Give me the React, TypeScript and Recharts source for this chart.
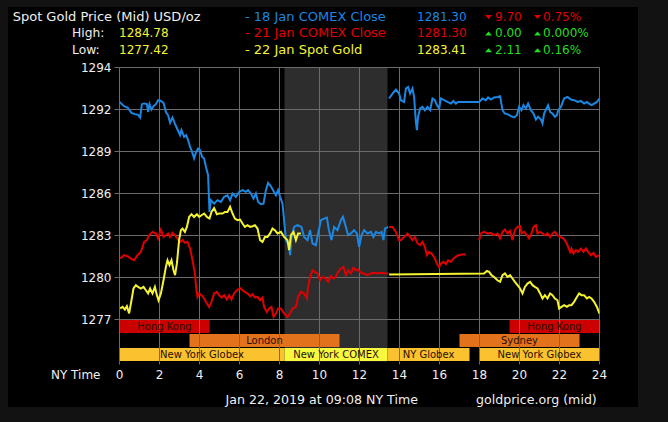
import { LineChart, Line, XAxis, YAxis, ReferenceArea, ReferenceLine } from 'recharts'

const FONT = '"DejaVu Sans", Verdana, sans-serif'
const COLORS = {
  page: '#121212', panel: '#000000', grid: '#6b6b6b', shade: '#2d2d2d', text: '#efefef',
  blue: '#1b87e3', red: '#e00000', yellow: '#f4f432', green: '#22dd22', barText: '#2a0e00',
}

// NY time (hours) -> price, null = gap in the feed
const jan18Comex: [number, number | null][] = [
  [0, 1292.02], [0.23, 1291.73], [0.4, 1291.64], [0.6, 1291.27], [0.77, 1291.18], [0.93, 1291.13], [1.03, 1290.95],
  [1.12, 1291.87], [1.23, 1291.92], [1.37, 1291.87], [1.43, 1291.33], [1.5, 1291.87], [1.6, 1291.5], [1.7, 1291.73],
  [1.82, 1291.87], [1.93, 1292.14], [2.07, 1292.09], [2.2, 1291.96], [2.32, 1291.33], [2.43, 1291.1], [2.53, 1290.58],
  [2.65, 1290.95], [2.77, 1290.53], [2.9, 1290.12], [3.03, 1289.73], [3.1, 1290.07], [3.23, 1289.61], [3.33, 1289.73],
  [3.43, 1289.38], [3.53, 1288.92], [3.63, 1288.57], [3.73, 1288.12], [3.83, 1288.57], [3.93, 1288.81], [4.03, 1288.69],
  [4.13, 1288.23], [4.23, 1288.12], [4.33, 1287.5], [4.43, 1286.96], [4.5, 1284.43], [4.57, 1285.24], [4.73, 1285.0],
  [4.9, 1285.24], [5.07, 1285.12], [5.23, 1285.47], [5.4, 1285.58], [5.53, 1285.24], [5.65, 1285.7], [5.82, 1285.47],
  [5.98, 1285.81], [6.15, 1285.93], [6.32, 1285.81], [6.43, 1285.93], [6.57, 1285.7], [6.7, 1285.35], [6.82, 1285.7],
  [6.93, 1285.12], [7.07, 1284.96], [7.2, 1285.0], [7.32, 1285.93], [7.43, 1286.43], [7.57, 1286.2], [7.7, 1285.88],
  [7.82, 1285.58], [7.93, 1285.93], [8.03, 1285.47], [8.15, 1285.0], [8.23, 1283.86], [8.32, 1282.48], [8.48, 1282.13],
  [8.53, 1281.44], [8.6, 1282.7], [8.73, 1283.39], [8.9, 1283.51], [9.1, 1283.39], [9.23, 1282.7], [9.4, 1282.48],
  [9.53, 1283.17], [9.65, 1282.25], [9.82, 1282.13], [9.93, 1282.94], [10.07, 1283.86], [10.23, 1283.97], [10.37, 1284.04],
  [10.47, 1283.17], [10.6, 1282.48], [10.73, 1283.39], [10.9, 1283.17], [11.07, 1283.86], [11.17, 1284.09], [11.32, 1283.39],
  [11.43, 1282.82], [11.57, 1282.94], [11.73, 1283.17], [11.87, 1282.94], [11.98, 1282.01], [12.1, 1282.82], [12.23, 1283.17],
  [12.4, 1282.94], [12.57, 1283.05], [12.7, 1282.7], [12.82, 1283.05], [12.98, 1282.94], [13.1, 1283.05], [13.2, 1282.48],
  [13.27, 1283.28], [13.43, 1283.39], [13.45, null], [13.48, 1292.26], [13.65, 1292.6], [13.82, 1292.88], [13.98, 1292.6],
  [14.07, 1292.14], [14.23, 1292.02], [14.32, 1292.95], [14.43, 1293.06], [14.53, 1292.6], [14.65, 1292.95], [14.73, 1292.37],
  [14.82, 1290.65], [14.87, 1290.07], [14.93, 1291.0], [15.03, 1291.57], [15.15, 1291.68], [15.27, 1291.45], [15.4, 1291.68],
  [15.53, 1291.45], [15.65, 1292.26], [15.77, 1292.14], [15.87, 1291.8], [15.98, 1291.57], [16.07, 1292.26], [16.23, 1292.14],
  [16.4, 1292.02], [16.57, 1291.91], [16.7, 1292.09], [16.82, 1291.91], [16.93, 1292.02], [17.98, 1292.02], [18.15, 1292.26],
  [18.32, 1292.14], [18.43, 1292.33], [18.57, 1292.19], [18.73, 1292.33], [18.9, 1292.37], [19.03, 1292.42], [19.15, 1291.45],
  [19.27, 1291.22], [19.4, 1291.18], [19.57, 1291.04], [19.73, 1290.95], [19.87, 1291.11], [19.98, 1291.68], [20.1, 1291.45],
  [20.2, 1291.8], [20.32, 1291.57], [20.43, 1291.91], [20.57, 1291.45], [20.7, 1291.22], [20.82, 1290.81], [20.93, 1291.0],
  [21.07, 1290.81], [21.15, 1290.53], [21.23, 1291.22], [21.35, 1291.57], [21.43, 1291.8], [21.53, 1291.33], [21.65, 1291.22],
  [21.77, 1291.0], [21.87, 1291.11], [21.93, 1291.45], [22.07, 1291.68], [22.23, 1292.26], [22.4, 1292.37], [22.57, 1292.19],
  [22.73, 1292.14], [22.9, 1292.02], [23.07, 1292.09], [23.23, 1291.91], [23.37, 1292.02], [23.48, 1291.91], [23.6, 1291.8],
  [23.73, 1291.91], [23.87, 1292.02], [24, 1292.26],
]

const jan21Comex: [number, number | null][] = [
  [0.03, 1281.21], [0.23, 1281.44], [0.4, 1281.37], [0.57, 1281.21], [0.73, 1281.09], [0.9, 1281.44], [1.07, 1281.67],
  [1.23, 1282.36], [1.37, 1282.48], [1.48, 1282.82], [1.65, 1283.05], [1.82, 1282.94], [1.93, 1282.59], [2.07, 1283.21],
  [2.2, 1282.7], [2.32, 1282.82], [2.43, 1282.94], [2.53, 1282.7], [2.65, 1282.98], [2.77, 1282.82], [2.9, 1282.59],
  [3.03, 1282.36], [3.15, 1282.48], [3.27, 1282.29], [3.4, 1282.36], [3.53, 1281.9], [3.65, 1281.09], [3.77, 1280.18],
  [3.83, 1279.25], [3.9, 1278.56], [3.98, 1278.8], [4.1, 1278.68], [4.23, 1278.45], [4.37, 1278.1], [4.48, 1277.87],
  [4.6, 1278.22], [4.73, 1278.8], [4.87, 1278.91], [4.98, 1278.68], [5.1, 1278.52], [5.23, 1278.68], [5.37, 1278.38],
  [5.48, 1278.68], [5.6, 1278.38], [5.73, 1278.8], [5.87, 1279.02], [6.03, 1279.18], [6.15, 1279.02], [6.27, 1278.91],
  [6.4, 1278.8], [6.53, 1278.61], [6.65, 1278.75], [6.77, 1278.52], [6.9, 1278.56], [7.03, 1278.33], [7.15, 1278.52],
  [7.23, 1277.87], [7.37, 1277.52], [7.48, 1277.76], [7.6, 1277.87], [7.7, 1277.18], [7.82, 1277.41], [7.93, 1277.76],
  [8.07, 1277.76], [8.23, 1277.41], [8.4, 1277.18], [8.53, 1277.41], [8.65, 1277.76], [8.82, 1277.87], [8.93, 1278.56],
  [9.07, 1278.91], [9.23, 1278.8], [9.37, 1278.45], [9.43, 1279.25], [9.53, 1279.94], [9.65, 1280.4], [9.77, 1280.29],
  [9.9, 1280.18], [10.03, 1279.71], [10.15, 1279.94], [10.32, 1279.83], [10.43, 1279.6], [10.57, 1279.99], [10.7, 1279.83],
  [10.82, 1279.94], [10.93, 1280.29], [11.07, 1280.52], [11.2, 1280.63], [11.32, 1280.06], [11.43, 1280.4], [11.57, 1280.18],
  [11.7, 1280.59], [11.82, 1280.4], [11.93, 1280.45], [12.07, 1280.22], [12.23, 1280.18], [12.4, 1280.06], [12.57, 1280.18],
  [12.73, 1280.22], [12.9, 1280.18], [13.07, 1280.22], [13.32, 1280.18], [13.43, 1280.18], [13.45, null], [13.48, 1283.39],
  [13.65, 1283.39], [13.82, 1283.05], [13.98, 1282.48], [14.07, 1282.48], [14.23, 1282.7], [14.4, 1282.94], [14.53, 1282.7],
  [14.65, 1282.48], [14.77, 1282.7], [14.9, 1282.25], [15.03, 1282.13], [15.15, 1282.36], [15.27, 1282.01], [15.37, 1281.44],
  [15.48, 1281.67], [15.6, 1281.56], [15.73, 1281.32], [15.87, 1280.87], [15.98, 1280.63], [16.07, 1280.87], [16.2, 1280.98],
  [16.32, 1280.82], [16.43, 1281.09], [16.57, 1280.98], [16.7, 1281.21], [16.82, 1281.32], [16.93, 1281.44], [17.15, 1281.49],
  [17.32, 1281.49], [17.6, null], [17.98, 1282.48], [18.07, 1282.94], [18.23, 1283.05], [18.4, 1282.94], [18.57, 1282.98],
  [18.73, 1282.82], [18.9, 1282.94], [19.03, 1282.59], [19.15, 1283.05], [19.27, 1283.21], [19.4, 1282.94], [19.53, 1283.12],
  [19.65, 1282.48], [19.77, 1283.17], [19.9, 1283.39], [20.03, 1283.44], [20.1, 1282.94], [20.23, 1283.05], [20.37, 1282.82],
  [20.48, 1282.59], [20.6, 1282.94], [20.7, 1283.39], [20.82, 1283.51], [20.9, 1282.94], [21.03, 1283.05], [21.15, 1282.94],
  [21.27, 1282.82], [21.4, 1282.94], [21.53, 1282.7], [21.65, 1282.94], [21.77, 1283.05], [21.9, 1282.82], [22.03, 1282.7],
  [22.2, 1282.59], [22.32, 1282.36], [22.43, 1282.01], [22.53, 1281.67], [22.6, 1281.9], [22.7, 1281.56], [22.82, 1281.79],
  [22.93, 1281.67], [23.07, 1281.9], [23.2, 1281.67], [23.32, 1281.9], [23.43, 1281.67], [23.57, 1281.44], [23.7, 1281.6],
  [23.82, 1281.32], [24, 1281.44],
]

const jan22Spot: [number, number | null][] = [
  [0.03, 1277.76], [0.15, 1277.87], [0.27, 1277.69], [0.37, 1277.92], [0.48, 1277.42], [0.6, 1278.33], [0.7, 1279.14],
  [0.82, 1279.37], [0.93, 1279.25], [1.07, 1279.14], [1.2, 1279.25], [1.32, 1279.02], [1.43, 1278.8], [1.53, 1279.14],
  [1.65, 1278.8], [1.77, 1279.25], [1.87, 1278.68], [1.95, 1278.33], [2.07, 1278.8], [2.2, 1279.71], [2.32, 1280.63],
  [2.4, 1281.09], [2.5, 1280.75], [2.6, 1281.09], [2.7, 1280.4], [2.78, 1280.06], [2.87, 1280.87], [2.98, 1282.48],
  [3.07, 1283.17], [3.15, 1283.28], [3.27, 1283.05], [3.37, 1283.39], [3.48, 1284.08], [3.6, 1284.27], [3.73, 1284.08],
  [3.87, 1284.27], [3.98, 1284.08], [4.1, 1284.2], [4.23, 1284.32], [4.37, 1284.08], [4.5, 1283.97], [4.6, 1284.43],
  [4.73, 1284.7], [4.87, 1284.27], [4.98, 1284.32], [5.15, 1284.32], [5.27, 1284.43], [5.4, 1284.43], [5.53, 1284.78],
  [5.65, 1284.32], [5.77, 1283.97], [5.9, 1283.86], [6.03, 1283.9], [6.15, 1283.63], [6.27, 1283.39], [6.4, 1283.51],
  [6.53, 1283.39], [6.65, 1283.44], [6.77, 1283.51], [6.9, 1283.28], [7.03, 1282.48], [7.15, 1282.36], [7.27, 1282.7],
  [7.4, 1282.7], [7.53, 1282.94], [7.65, 1283.28], [7.77, 1283.17], [7.9, 1282.94], [8.07, 1283.05], [8.23, 1282.7],
  [8.4, 1282.48], [8.48, 1281.79], [8.57, 1282.82], [8.7, 1283.05], [8.82, 1282.48], [8.93, 1282.94], [9.07, 1282.94],
  [11, null], [13.48, 1280.11], [18.23, 1280.18], [18.37, 1280.36], [18.48, 1280.29], [18.6, 1280.06], [18.73, 1279.94],
  [18.9, 1279.71], [19.03, 1279.6], [19.15, 1280.06], [19.27, 1280.18], [19.4, 1279.94], [19.53, 1280.06], [19.65, 1279.83],
  [19.77, 1279.6], [19.9, 1279.37], [20.03, 1279.14], [20.15, 1278.8], [20.27, 1279.25], [20.4, 1279.48], [20.53, 1279.6],
  [20.65, 1279.37], [20.77, 1279.25], [20.9, 1279.14], [21.03, 1278.8], [21.15, 1278.45], [21.27, 1278.68], [21.4, 1278.45],
  [21.53, 1278.8], [21.65, 1278.68], [21.77, 1278.45], [21.9, 1278.33], [21.98, 1277.76], [22.1, 1277.87], [22.23, 1277.99],
  [22.37, 1277.87], [22.48, 1277.99], [22.6, 1277.99], [22.73, 1278.22], [22.87, 1278.56], [22.98, 1278.8], [23.1, 1278.68],
  [23.23, 1278.68], [23.37, 1278.45], [23.48, 1278.56], [23.6, 1278.45], [23.73, 1278.22], [23.87, 1277.87], [24, 1277.41],
]

const hourTicks = [0, 2, 4, 6, 8, 10, 12, 14, 16, 18, 20, 22, 24]
// gridlines are evenly spaced, labels are the rounded values
const priceTicks = [1277, 1279.9, 1282.8, 1285.7, 1288.6, 1291.5, 1294.4]
const priceDomain: [number, number] = [1274.1, 1294.4]
const comexWindow: [number, number] = [8.25, 13.4]

const sessions = [
  { name: 'Hong Kong', kind: 'hongkong', from: 0, to: 4.5 },
  { name: 'Hong Kong', kind: 'hongkong', from: 19.5, to: 24 },
  { name: 'London', kind: 'london', from: 3.5, to: 11 },
  { name: 'Sydney', kind: 'sydney', from: 17, to: 23 },
  { name: 'New York Globex', kind: 'globex', from: 0, to: 8.25 },
  { name: 'New York COMEX', kind: 'comex', from: 8.25, to: 13.4 },
  { name: 'NY Globex', kind: 'globex', from: 13.4, to: 17.5 },
  { name: 'New York Globex', kind: 'globex', from: 18, to: 24 },
]

const headerHigh = '1284.78'
const headerLow = '1277.42'
const legendRows = [
  { label: '- 18 Jan COMEX Close', value: '1281.30', change: '9.70', pct: '0.75%', up: false },
  { label: '- 21 Jan COMEX Close', value: '1281.30', change: '0.00', pct: '0.000%', up: true },
  { label: '- 22 Jan Spot Gold', value: '1283.41', change: '2.11', pct: '0.16%', up: true },
]
const legendColors = [COLORS.blue, COLORS.red, COLORS.yellow]

// session rows sit under the price area, measured in px up from the plot bottom
const PX_PER_UNIT = 294 / (priceDomain[1] - priceDomain[0])
const fromBottom = (px: number) => priceDomain[0] + px / PX_PER_UNIT
const ROWS: Record<string, [number, number]> = {
  hongkong: [28.5, 41.5], london: [14.5, 27.5], sydney: [14.5, 27.5], globex: [0.5, 13.5], comex: [0.5, 13.5],
}
const FILLS: Record<string, string> = {
  hongkong: '#cc0000', london: '#e2721b', sydney: '#e2721b', globex: '#f9c22e', comex: '#f8f83c',
}

const toPoints = (s: [number, number | null][]) => s.map(([h, v]) => ({ h, v }))

const tri = (x: number, base: number, up: boolean) =>
  up
    ? `${x},${base - 1.7} ${x + 7},${base - 1.7} ${x + 3.5},${base - 5.7}`
    : `${x},${base - 5.7} ${x + 7},${base - 5.7} ${x + 3.5},${base - 1.7}`

export default function App() {
  const rowBase = [20.7, 37.3, 54]
  return (
    <div style={{ position: 'fixed', inset: 0, background: COLORS.page, overflow: 'hidden' }}>
      <div style={{ position: 'absolute', left: 8, top: 7, width: 630, height: 400, background: COLORS.panel }} />
      <div style={{ position: 'absolute', left: 0, top: 0 }}>
        <LineChart width={668} height={422} margin={{ top: 67.5, right: 68.5, bottom: 30.5, left: 59.5 }}>
          <XAxis
            type="number" dataKey="h" domain={[0, 24]} ticks={hourTicks} interval={0} allowDataOverflow
            axisLine={false} tickLine={{ stroke: COLORS.grid }} tickSize={3} tickMargin={6} height={30}
            tick={{ fill: COLORS.text, fontSize: 12, fontFamily: FONT }}
          />
          <YAxis
            type="number" domain={priceDomain} ticks={priceTicks} interval={0} allowDataOverflow width={60}
            axisLine={false} tickLine={{ stroke: COLORS.grid }} tickSize={5} tickMargin={3}
            tickFormatter={(v: number) => String(Math.round(v))}
            tick={{ fill: COLORS.text, fontSize: 12, fontFamily: FONT }}
          />
          <ReferenceArea
            x1={comexWindow[0]} x2={comexWindow[1]} y1={priceDomain[0]} y2={priceDomain[1]}
            fill={COLORS.shade} fillOpacity={1} stroke="none" zIndex={-400}
          />
          {sessions.map((s, i) => (
            <ReferenceArea
              key={i} x1={s.from} x2={s.to} y1={fromBottom(ROWS[s.kind][0])} y2={fromBottom(ROWS[s.kind][1])}
              fill={FILLS[s.kind]} fillOpacity={1} stroke="none" zIndex={-300}
              label={{ value: s.name, position: 'center', fill: COLORS.barText, fontSize: 10, fontFamily: FONT }}
            />
          ))}
          {priceTicks.map((t) => (
            <ReferenceLine key={'y' + t} y={t} stroke={COLORS.grid} strokeWidth={1} zIndex={-200} />
          ))}
          {hourTicks.map((t) => (
            <ReferenceLine key={'x' + t} x={t} stroke={COLORS.grid} strokeWidth={1} zIndex={-200} />
          ))}
          <Line data={toPoints(jan18Comex)} dataKey="v" type="linear" stroke={COLORS.blue} strokeWidth={2} dot={false} isAnimationActive={false} />
          <Line data={toPoints(jan21Comex)} dataKey="v" type="linear" stroke={COLORS.red} strokeWidth={2} dot={false} isAnimationActive={false} />
          <Line data={toPoints(jan22Spot)} dataKey="v" type="linear" stroke={COLORS.yellow} strokeWidth={2} dot={false} isAnimationActive={false} />
        </LineChart>
      </div>
      <svg width={668} height={422} style={{ position: 'absolute', left: 0, top: 0, pointerEvents: 'none' }} fontFamily={FONT}>
        <text x={12.7} y={rowBase[0]} fill={COLORS.text} fontSize={13}>Spot Gold Price (Mid) USD/oz</text>
        <text x={72} y={rowBase[1]} fill={COLORS.text} fontSize={12.3}>High:</text>
        <text x={72} y={rowBase[2]} fill={COLORS.text} fontSize={12.3}>Low:</text>
        <text x={119} y={rowBase[1]} fill={COLORS.yellow} fontSize={12}>{headerHigh}</text>
        <text x={119} y={rowBase[2]} fill={COLORS.yellow} fontSize={12}>{headerLow}</text>
        {legendRows.map((r, i) => {
          const b = rowBase[i]
          const c = r.up ? COLORS.green : COLORS.red
          return (
            <g key={i}>
              <text x={245} y={b} fill={legendColors[i]} fontSize={13}>{r.label}</text>
              <text x={417} y={b} fill={legendColors[i]} fontSize={12}>{r.value}</text>
              <polygon points={tri(485, b, r.up)} fill={c} />
              <text x={495} y={b} fill={c} fontSize={12}>{r.change}</text>
              <polygon points={tri(534, b, r.up)} fill={c} />
              <text x={543} y={b} fill={c} fontSize={12}>{r.pct}</text>
            </g>
          )
        })}
        <text x={51} y={378.5} fill={COLORS.text} fontSize={12}>NY Time</text>
        <text x={225.5} y={403.5} fill={COLORS.text} fontSize={12.6}>Jan 22, 2019 at 09:08 NY Time</text>
        <text x={476} y={403.5} fill={COLORS.text} fontSize={12.6}>goldprice.org (mid)</text>
      </svg>
    </div>
  )
}
